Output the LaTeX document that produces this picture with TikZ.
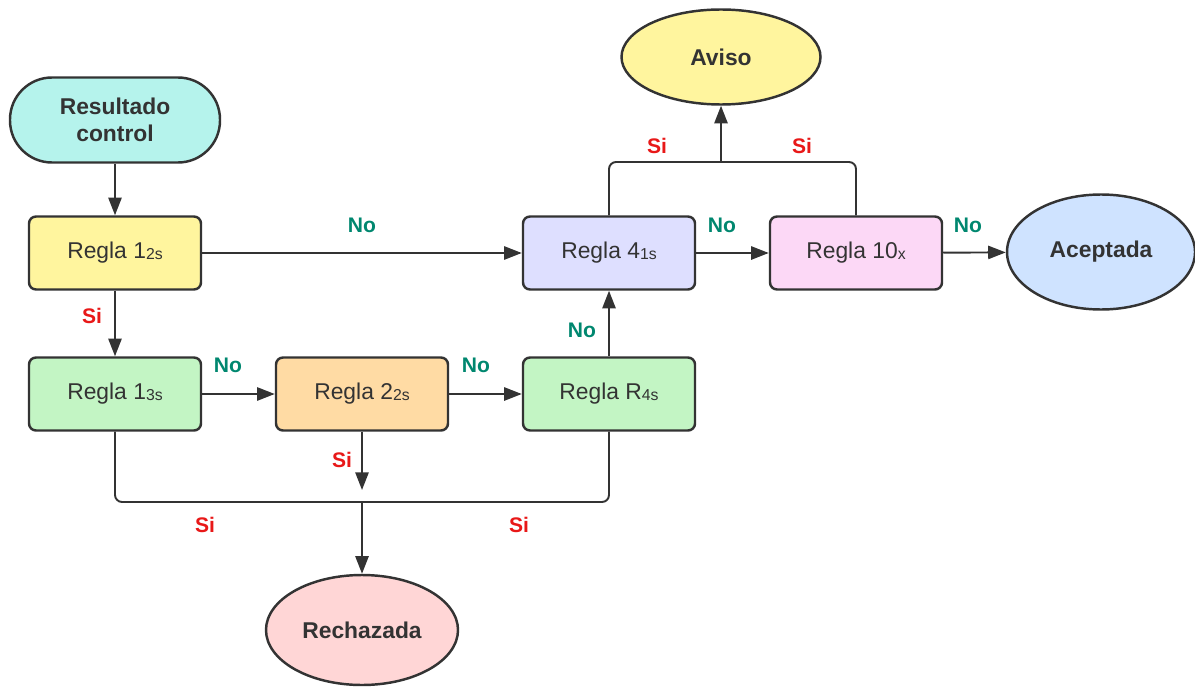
\documentclass[tikz,border=0pt]{standalone}
\usepackage{fontspec}
\setmainfont{Liberation Sans}
\usetikzlibrary{arrows.meta, shapes.geometric}
\definecolor{ink}{HTML}{333333}
\definecolor{siRed}{HTML}{E81818}
\definecolor{noTeal}{HTML}{00876F}
\definecolor{resFill}{HTML}{B5F3EC}
\definecolor{yelFill}{HTML}{FFF59E}
\definecolor{grnFill}{HTML}{C3F5C4}
\definecolor{orgFill}{HTML}{FFDBA4}
\definecolor{lavFill}{HTML}{DEDFFF}
\definecolor{pnkFill}{HTML}{FCD8F6}
\definecolor{bluFill}{HTML}{CFE3FF}
\definecolor{redFill}{HTML}{FFD6D6}
\newcommand{\sub}[1]{{\fontsize{9}{10}\selectfont\raisebox{-0.5pt}{#1}}}

\begin{document}
\begin{tikzpicture}[x=0.02cm, y=-0.02cm,
    regla/.style={rectangle, draw=ink, line width=1.4pt, rounded corners=4pt, minimum width=172*0.02cm, minimum height=73*0.02cm, font=\fontsize{13}{15}\selectfont, text=ink},
    oval/.style={ellipse, draw=ink, line width=1.4pt, font=\bfseries\fontsize{13}{15}\selectfont, text=ink, inner sep=0pt},
    link/.style={draw=ink, line width=1.1pt, rounded corners=4pt},
    arrow/.style={link, -{Triangle[length=10pt, width=7.5pt]}},
    si/.style={text=siRed, font=\bfseries\fontsize{12}{14}\selectfont},
    no/.style={text=noTeal, font=\bfseries\fontsize{12}{14}\selectfont}]
    \useasboundingbox (0,0) rectangle (1195,689);

    \node[regla, rounded corners=42*0.02cm, minimum width=210*0.02cm, minimum height=85*0.02cm, fill=resFill, font=\bfseries\fontsize{13}{15}\selectfont, align=center] (res) at (115,120) {Resultado\\control};
    \node[regla, fill=yelFill] (r12) at (115,253) {Regla 1\sub{2s}};
    \node[regla, fill=grnFill] (r13) at (115,394) {Regla 1\sub{3s}};
    \node[regla, fill=orgFill] (r22) at (362,394) {Regla 2\sub{2s}};
    \node[regla, fill=grnFill] (rR4) at (609,394) {Regla R\sub{4s}};
    \node[regla, fill=lavFill] (r41) at (609,253) {Regla 4\sub{1s}};
    \node[regla, fill=pnkFill] (r10) at (856,253) {Regla 10\sub{x}};
    \node[oval, minimum width=188*0.02cm, minimum height=115*0.02cm, fill=bluFill] (ok) at (1101,252) {Aceptada};
    \node[oval, minimum width=199*0.02cm, minimum height=95*0.02cm, fill=yelFill] (aviso) at (721,57) {Aviso};
    \node[oval, minimum width=192*0.02cm, minimum height=110*0.02cm, fill=redFill] (rech) at (362,630) {Rechazada};

    \coordinate (top) at (721,162);
    \coordinate (bot) at (362,502);

    \draw[arrow] (res) -- (r12);
    \draw[arrow] (r12) -- (r41);
    \draw[arrow] (r12) -- (r13);
    \draw[arrow] (r13) -- (r22);
    \draw[arrow] (r22) -- (rR4);
    \draw[arrow] (rR4) -- (r41);
    \draw[arrow] (r41) -- (r10);
    \draw[arrow] (r10) -- (ok);
    \draw[link] (r41.north) |- (top);
    \draw[link] (r10.north) |- (top);
    \draw[arrow] (top) -- (aviso);
    \draw[arrow] (r22) -- ([yshift=12*0.02cm]bot);
    \draw[link] (r13.south) |- (bot);
    \draw[link] (rR4.south) |- (bot);
    \draw[arrow] (bot) -- (rech);

    \node[no] at (362,225) {No};
    \node[si] at (92,316) {Si};
    \node[no] at (228,365) {No};
    \node[no] at (476,365) {No};
    \node[no] at (582,330) {No};
    \node[no] at (722,225) {No};
    \node[no] at (968,225) {No};
    \node[si] at (657,146) {Si};
    \node[si] at (802,146) {Si};
    \node[si] at (342,460) {Si};
    \node[si] at (205,525) {Si};
    \node[si] at (519,525) {Si};
\end{tikzpicture}
\end{document}
